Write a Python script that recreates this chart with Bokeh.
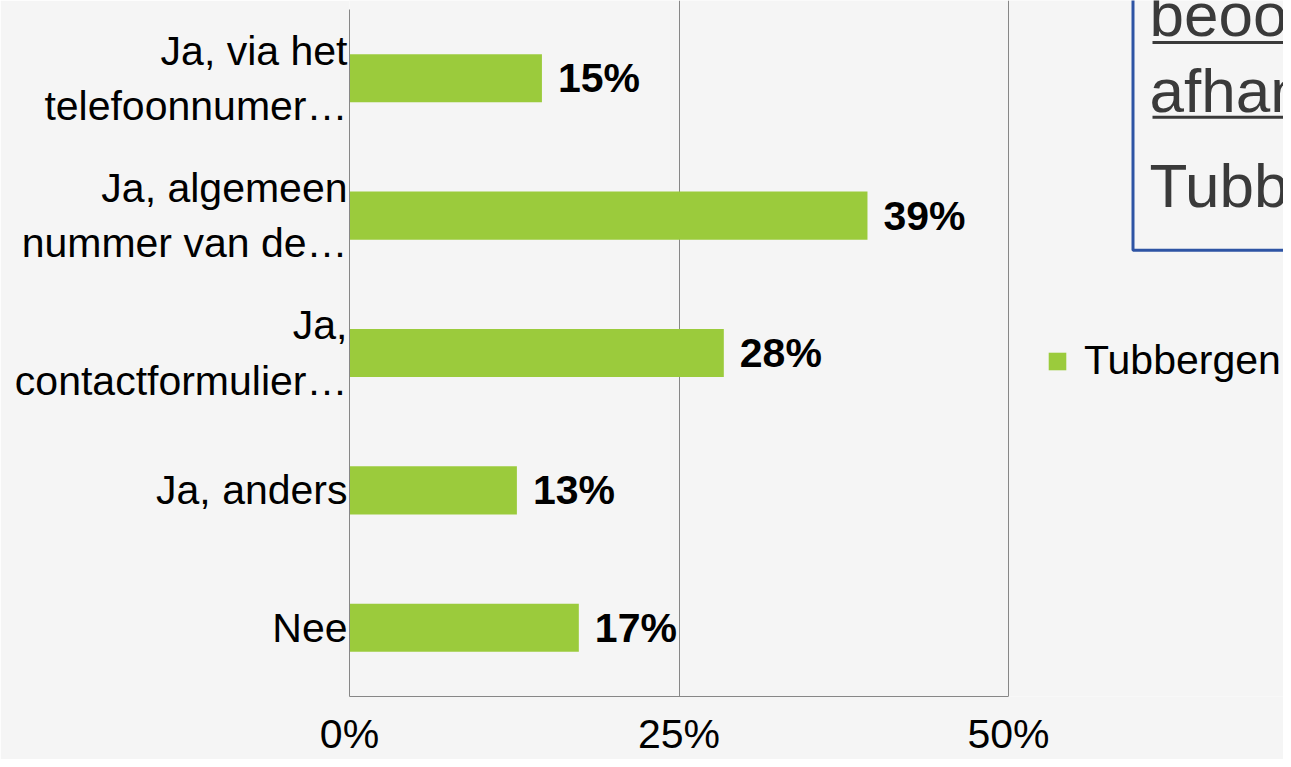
from bokeh.plotting import figure
from bokeh.models import (Range1d, FixedTicker, NumeralTickFormatter,
                          Legend, LegendItem, ColumnDataSource)
from bokeh.embed import file_html
from bokeh.resources import INLINE
from bokeh.core.properties import value

# ---------------- data ----------------
categories = ["Ja, via het\ntelefoonnumer\u2026",
              "Ja, algemeen\nnummer van de\u2026",
              "Ja,\ncontactformulier\u2026",
              "Ja, anders",
              "Nee"]
shares = [0.146, 0.393, 0.284, 0.127, 0.174]
series_name = "Tubbergen"
x_ticks = [0, 0.25, 0.5]
box_lines = ["beoo", "afhan", "Tubb"]

# ---------------- layout (picture px) ----------------
FONT = "Liberation Sans"
W, H = 1283, 759
FR_L, FR_T, FR_B = 349, 0, 698          # frame edges in picture px
X50 = 1008                               # 50% position
PLOT_TOP = 9                             # top of the category bands
n = len(categories)
PER_PX_X = 0.5 / (X50 - FR_L)
PER_PX_Y = n / (FR_B - PLOT_TOP)
x_end = (W - FR_L) * PER_PX_X
y_end = (FR_B - FR_T) * PER_PX_Y


def dx(px):
    return (px - FR_L) * PER_PX_X


def dy(py):
    return (FR_B - py) * PER_PX_Y


BG = "#f5f5f5"
GREEN = "#9BCB3C"
GRID = "#878787"

p = figure(width=W, height=H, output_backend="svg", toolbar_location=None,
           x_range=Range1d(0, x_end), y_range=Range1d(0, y_end),
           min_border_left=FR_L, min_border_right=0, min_border_top=FR_T,
           min_border_bottom=H - FR_B)
p.background_fill_color = BG
p.border_fill_color = BG
p.outline_line_color = None

ypos = [n - 0.5 - i for i in range(n)]
src = ColumnDataSource(dict(y=ypos, share=shares,
                            label=[f"{round(v * 100)}%" for v in shares]))

bars = p.hbar(y="y", left=0, right="share", height=0.35, source=src,
              fill_color=GREEN, line_color=None)

p.text(x="share", y="y", text="label", source=src, x_offset=16,
       text_baseline="middle", text_align="left",
       text_font=value(FONT), text_font_style="bold",
       text_font_size="41px", text_color="black")

# x axis
p.xaxis.ticker = FixedTicker(ticks=x_ticks)
p.xaxis.formatter = NumeralTickFormatter(format="0%")
p.xaxis.bounds = (0, 0.5)
p.xaxis.axis_line_color = GRID
p.xaxis.major_tick_line_color = None
p.xaxis.minor_tick_line_color = None
p.xaxis.major_tick_out = 0
p.xaxis.major_tick_in = 0
p.xaxis.major_label_standoff = 14
p.xaxis.major_label_text_font = FONT
p.xaxis.major_label_text_font_size = "41px"
p.xaxis.major_label_text_color = "black"

# y axis (categories)
p.yaxis.ticker = FixedTicker(ticks=ypos)
p.yaxis.major_label_overrides = {y: c for y, c in zip(ypos, categories)}
p.yaxis.bounds = (0, n)
p.yaxis.axis_line_color = GRID
p.yaxis.major_tick_line_color = None
p.yaxis.minor_tick_line_color = None
p.yaxis.major_tick_out = 0
p.yaxis.major_tick_in = 0
p.yaxis.major_label_standoff = 2
p.yaxis.major_label_text_font = FONT
p.yaxis.major_label_text_font_size = "41px"
p.yaxis.major_label_text_color = "black"

p.xgrid.ticker = FixedTicker(ticks=x_ticks)
p.xgrid.grid_line_color = GRID
p.ygrid.grid_line_color = None

# legend
legend = Legend(items=[LegendItem(label=series_name, renderers=[bars])],
                location=(697, 312), glyph_width=22, glyph_height=22,
                label_standoff=16, padding=0, margin=0, spacing=0,
                border_line_color=None, background_fill_alpha=0,
                label_text_font=FONT, label_text_font_size="41px",
                label_text_color="black")
p.add_layout(legend)

# framed note (top right, cut off by the page edge)
NOTE_COLOR = "#3a3a3a"
p.line(x=[dx(1132.5), dx(1132.5), dx(1330)], y=[dy(-30), dy(250.5), dy(250.5)],
       line_color="#2E54A4", line_width=3)
for yy in (42, 117):
    p.line(x=[dx(1152), dx(1330)], y=[dy(yy), dy(yy)], line_color=NOTE_COLOR,
           line_width=3)
BASE_SHIFT = 21  # rendered alphabetic baseline sits this much lower
p.text(x=[dx(1149)] * 3,
       y=[dy(35 - BASE_SHIFT), dy(111 - BASE_SHIFT), dy(207 - BASE_SHIFT)],
       text=box_lines, text_baseline="alphabetic", text_align="left",
       text_font=value(FONT), text_font_size="62px", text_color=NOTE_COLOR)

open("out.html", "w").write(file_html(p, INLINE))
